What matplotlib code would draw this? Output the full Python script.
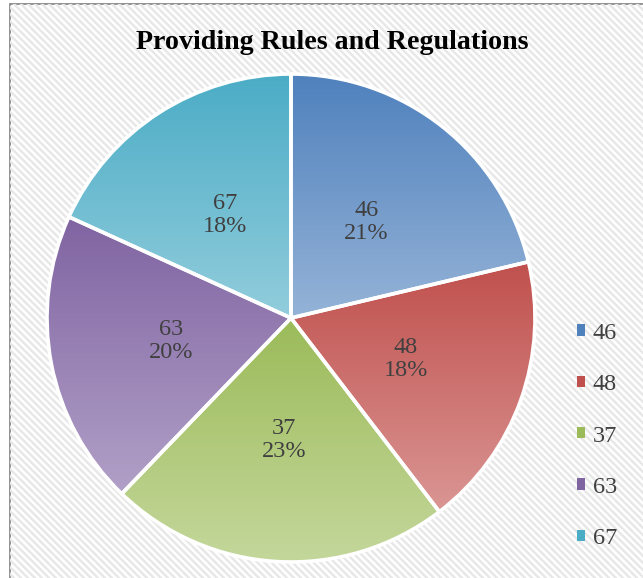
import numpy as np
import matplotlib
matplotlib.use('Agg')
import matplotlib.pyplot as plt
from matplotlib.patches import Rectangle, Patch
from matplotlib.collections import LineCollection
from matplotlib.colors import LinearSegmentedColormap

TITLE = 'Providing Rules and Regulations'
values = [46, 48, 37, 63, 67]
shares = [21.3, 18.3, 22.6, 19.6, 18.2]   # slice share in %
top_colors = ['#4F81BD', '#C0504D', '#9BBB59', '#8064A2', '#4BACC6']
bottom_colors = ['#95B3D7', '#DA9694', '#C4D79B', '#B1A0C7', '#92CDDC']

W, H = 643, 578
plt.rcParams['font.family'] = ['Liberation Serif', 'DejaVu Serif']

fig = plt.figure(figsize=(W / 100, H / 100), dpi=100)
ax = fig.add_axes([0, 0, 1, 1])

# chart area: border + diagonal stripes
border = Rectangle((10, -20), 660, H - 4 + 20, facecolor='white',
                   edgecolor='#7f7f7f', linewidth=1.2, zorder=0)
ax.add_patch(border)
segs = []
for c in np.arange(-700, 1400, 7):
    segs.append([(c - 700, 700), (c + 700, -700)])
stripes = LineCollection(segs, colors='#e8e8e8', linewidths=1.8, zorder=0.5)
ax.add_collection(stripes)
stripes.set_clip_path(border)

cx, cy, r = 291, H - 318, 244
wedges, _ = ax.pie(shares, startangle=90, counterclock=False, center=(cx, cy),
                   radius=r, colors=top_colors,
                   wedgeprops=dict(edgecolor='white', linewidth=2.6))

grad = np.linspace(0, 1, 256).reshape(-1, 1)
for w, c0, c1, v, s in zip(wedges, top_colors, bottom_colors, values, shares):
    ext = w.get_path().get_extents(w.get_patch_transform())
    cmap = LinearSegmentedColormap.from_list('g', [c0, c1])
    im = ax.imshow(grad, extent=(ext.x0, ext.x1, ext.y0, ext.y1), origin='upper',
                   cmap=cmap, aspect='auto', zorder=1, interpolation='bilinear')
    im.set_clip_path(w)
    w.set_facecolor('none')
    w.set_zorder(2)
    mid = np.deg2rad((w.theta1 + w.theta2) / 2)
    ax.text(cx + 0.5 * r * np.cos(mid), cy + 0.5 * r * np.sin(mid),
            f'{v}\n{round(s)}%', ha='center', va='center', fontsize=17.5,
            color='#404040', linespacing=1.12, zorder=3)

handles = [Patch(facecolor=c, edgecolor='none') for c in top_colors]
leg = ax.legend(handles, [str(v) for v in values], loc='center left',
                bbox_to_anchor=(577, H - 436), bbox_transform=ax.transData,
                frameon=False, fontsize=17.5, handlelength=0.34, handleheight=0.34,
                handletextpad=0.3, labelspacing=1.25, borderpad=0,
                borderaxespad=0)
for t in leg.get_texts():
    t.set_color('#404040')

ax.set_xlim(0, W)
ax.set_ylim(0, H)
ax.set_aspect('equal')
ax.set_axis_off()

fig.text(332 / W, 1 - 49 / H, TITLE, ha='center', va='baseline',
         fontsize=20.2, fontweight='bold', color='black')

fig.savefig('out.png', dpi=100)
